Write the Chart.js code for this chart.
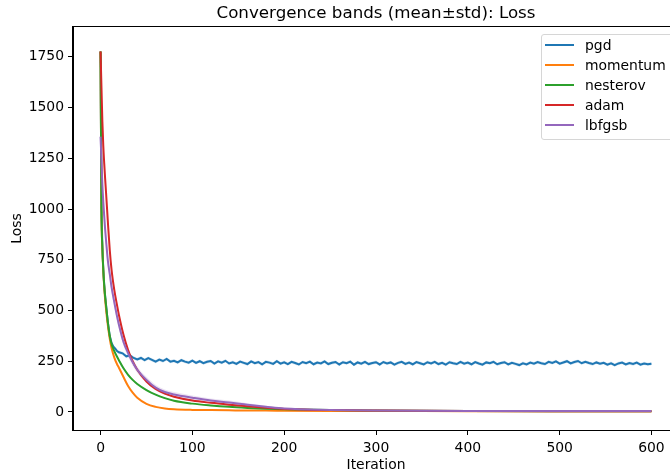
<!DOCTYPE html>
<html lang="en">
<head>
<meta charset="UTF-8">
<title>Convergence bands (mean±std): Loss</title>
<script src="https://cdn.jsdelivr.net/npm/chart.js"></script>
<style>
  html, body { margin: 0; padding: 0; background: #fff; overflow: hidden; }
  #wrap { position: relative; width: 670px; height: 476px; overflow: hidden; }
  #legend {
    position: absolute; left: 541px; top: 34px; width: 140px; height: 104px;
    border: 1px solid #d6d6d6; border-radius: 3px; background: rgba(255,255,255,0.8);
    font-family: "DejaVu Sans", sans-serif; font-size: 13.9px; color: #000;
  }
  .row { position: absolute; left: 0; height: 20px; display: flex; align-items: center; }
  .swatch { width: 29px; height: 2px; margin-left: 3px; }
  .label { margin-left: 11px; white-space: nowrap; }
</style>
</head>
<body>
<div id="wrap">
  <canvas id="chart" width="700" height="476"></canvas>
  <div id="legend"></div>
</div>
<script>
// series names and colours (matplotlib tab10)
const seriesNames = ['pgd', 'momentum', 'nesterov', 'adam', 'lbfgsb'];
const seriesColors = ['#1f77b4', '#ff7f0e', '#2ca02c', '#d62728', '#9467bd'];

// axis ticks
const xTicks = [0, 100, 200, 300, 400, 500, 600];
const yTicks = [0, 250, 500, 750, 1000, 1250, 1500, 1750];

// iterations sampled for the smooth curves
const iters = [0, 1, 2, 3, 4, 5, 6, 8, 10, 12, 15, 18, 20, 25, 30, 35, 40, 50, 60, 70, 80, 100, 120, 140, 160, 180, 200, 250, 300, 400, 500, 600];

const momentumMean = [1776, 1000, 805, 695, 615, 555, 505, 425, 362, 315, 268, 235, 218, 172, 128, 95, 70, 40, 25, 17, 13, 10, 9, 8, 7, 7, 6, 5, 5, 4, 4, 4];
const momentumStd  = [0, 8, 8, 7, 6, 6, 5, 5, 5, 5, 4, 4, 4, 4, 3, 3, 3, 2, 2, 2, 1, 1, 1, 1, 1, 1, 1, 1, 1, 1, 1, 1];

const nesterovMean = [1776, 1000, 810, 700, 625, 570, 525, 440, 375, 335, 300, 272, 255, 215, 183, 158, 138, 108, 85, 68, 55, 41, 32, 25, 20, 16, 13, 9, 7, 5, 4, 4];
const nesterovStd  = [0, 10, 9, 8, 8, 7, 7, 6, 6, 6, 5, 5, 5, 5, 4, 4, 4, 3, 3, 3, 2, 2, 2, 2, 1, 1, 1, 1, 1, 1, 1, 1];

const adamMean = [1776, 1600, 1430, 1310, 1225, 1150, 1080, 935, 800, 700, 600, 525, 478, 380, 305, 250, 208, 150, 113, 90, 75, 56, 45, 36, 28, 21, 15, 9, 7, 5, 4, 4];
const adamStd  = [0, 10, 10, 10, 9, 9, 9, 8, 8, 7, 7, 6, 6, 6, 5, 5, 5, 4, 4, 3, 3, 3, 2, 2, 2, 2, 1, 1, 1, 1, 1, 1];

const lbfgsbMean = [1357, 1240, 1120, 1035, 965, 900, 845, 745, 680, 615, 540, 470, 430, 345, 290, 245, 208, 158, 120, 98, 86, 70, 56, 47, 36, 26, 17, 10, 7, 5, 5, 5];
const lbfgsbStd  = [15, 25, 30, 32, 32, 32, 30, 28, 26, 25, 23, 22, 21, 19, 18, 17, 16, 15, 14, 13, 12, 11, 10, 9, 7, 5, 4, 3, 2, 1, 1, 1];

// pgd is noisy, so it has its own, denser iteration list
const pgdIters = [0, 1, 2, 3, 4, 5, 6, 8, 10, 12, 14, 16, 18, 20,
  24, 28, 32, 36, 40, 44, 48, 52, 56, 60, 64, 68, 72, 76, 80, 84, 88, 92, 96, 100,
  104, 108, 112, 116, 120, 124, 128, 132, 136, 140, 144, 148, 152, 156, 160, 164, 168, 172, 176, 180,
  184, 188, 192, 196, 200, 204, 208, 212, 216, 220, 224, 228, 232, 236, 240, 244, 248, 252, 256, 260,
  264, 268, 272, 276, 280, 284, 288, 292, 296, 300, 304, 308, 312, 316, 320, 324, 328, 332, 336, 340,
  344, 348, 352, 356, 360, 364, 368, 372, 376, 380, 384, 388, 392, 396, 400, 404, 408, 412, 416, 420,
  424, 428, 432, 436, 440, 444, 448, 452, 456, 460, 464, 468, 472, 476, 480, 484, 488, 492, 496, 500,
  504, 508, 512, 516, 520, 524, 528, 532, 536, 540, 544, 548, 552, 556, 560, 564, 568, 572, 576, 580,
  584, 588, 592, 596, 600];
const pgdMean = [1776, 1000, 810, 700, 625, 570, 525, 440, 375, 340, 322, 312, 300, 294,
  289, 274, 279, 266, 259, 266, 255, 265, 257, 248, 258, 251, 261, 248, 252, 244, 255, 248, 243, 253,
  242, 250, 240, 247, 251, 238, 249, 243, 252, 239, 245, 237, 248, 242, 236, 249, 240, 246, 235, 247,
  243, 237, 250, 238, 245, 236, 247, 241, 234, 246, 240, 248, 235, 243, 239, 249, 236, 242, 246, 234,
  245, 240, 248, 233, 244, 238, 247, 236, 241, 245, 234, 246, 239, 244, 233, 242, 247, 237, 243, 235,
  246, 240, 234, 245, 239, 247, 236, 242, 233, 245, 240, 236, 247, 238, 243, 235, 246, 239, 233, 244,
  240, 247, 235, 241, 245, 234, 242, 237, 231, 240, 234, 243, 238, 246, 240, 236, 247, 242, 249, 238,
  244, 250, 239, 246, 251, 240, 247, 241, 236, 244, 238, 242, 233, 240, 231, 239, 243, 234, 241, 236,
  243, 233, 239, 235, 238];
const pgdStd = 8;

function toPts(xs, ys) {
  return xs.map((x, i) => ({ x: x, y: ys[i] }));
}
function alpha(hex, a) {
  const n = parseInt(hex.slice(1), 16);
  return 'rgba(' + (n >> 16) + ',' + ((n >> 8) & 255) + ',' + (n & 255) + ',' + a + ')';
}

const seriesData = [
  { xs: pgdIters, mean: pgdMean, lo: pgdMean.map(v => v - pgdStd), hi: pgdMean.map(v => v + pgdStd), smooth: false },
  { xs: iters, mean: momentumMean, lo: momentumMean.map((v, i) => v - momentumStd[i]), hi: momentumMean.map((v, i) => v + momentumStd[i]), smooth: true },
  { xs: iters, mean: nesterovMean, lo: nesterovMean.map((v, i) => v - nesterovStd[i]), hi: nesterovMean.map((v, i) => v + nesterovStd[i]), smooth: true },
  { xs: iters, mean: adamMean, lo: adamMean.map((v, i) => v - adamStd[i]), hi: adamMean.map((v, i) => v + adamStd[i]), smooth: true },
  { xs: iters, mean: lbfgsbMean, lo: lbfgsbMean.map((v, i) => v - lbfgsbStd[i]), hi: lbfgsbMean.map((v, i) => v + lbfgsbStd[i]), smooth: true }
];

const datasets = [];
seriesData.forEach((s, i) => {
  const col = seriesColors[i];
  const interp = s.smooth ? 'monotone' : 'default';
  datasets.push({ data: toPts(s.xs, s.lo), borderWidth: 0, pointRadius: 0, fill: false, order: 100, cubicInterpolationMode: interp });
  datasets.push({ data: toPts(s.xs, s.hi), borderWidth: 0, pointRadius: 0, fill: '-1', backgroundColor: alpha(col, 0.18), order: 100, cubicInterpolationMode: interp });
  datasets.push({ label: seriesNames[i], data: toPts(s.xs, s.mean), borderColor: col, borderWidth: 2, pointRadius: 0, fill: false, order: 10 - i, cubicInterpolationMode: interp });
});

// axes frame (top / right spines as in matplotlib)
const frame = {
  id: 'frame',
  afterDraw(chart) {
    const a = chart.chartArea, c = chart.ctx;
    c.save();
    c.strokeStyle = '#000';
    c.lineWidth = 1;
    c.strokeRect(Math.round(a.left) - 0.5, Math.round(a.top) - 0.5, Math.round(a.right - a.left) + 1, Math.round(a.bottom - a.top) + 1);
    c.restore();
  }
};

const font = { family: "'DejaVu Sans', sans-serif", size: 13.9 };

new Chart(document.getElementById('chart'), {
  type: 'line',
  data: { datasets: datasets },
  options: {
    responsive: false,
    animation: false,
    layout: { padding: { left: 0, right: 21, top: 0, bottom: 0 } },
    plugins: {
      legend: { display: false },
      tooltip: { enabled: false },
      title: {
        display: true,
        text: 'Convergence bands (mean±std): Loss',
        fullSize: false,
        color: '#000',
        font: { family: "'DejaVu Sans', sans-serif", size: 16.7, weight: 'normal', lineHeight: 1.2 },
        padding: { top: 4, bottom: 3 }
      }
    },
    scales: {
      x: {
        type: 'linear', min: -30, max: 630,
        afterBuildTicks: s => { s.ticks = xTicks.map(v => ({ value: v })); },
        afterFit: s => { s.height = 46; },
        ticks: { color: '#000', font: font, padding: 5, maxRotation: 0, callback: v => String(v) },
        grid: { drawOnChartArea: false, tickLength: 5, tickColor: '#000' },
        border: { color: '#000' },
        title: { display: true, text: 'Iteration', color: '#000', font: font, padding: { top: 0, bottom: 2 } }
      },
      y: {
        type: 'linear', min: -89, max: 1897,
        afterBuildTicks: s => { s.ticks = yTicks.map(v => ({ value: v })); },
        afterFit: s => { s.width = 73; },
        ticks: { color: '#000', font: font, padding: 4, callback: v => String(v) },
        grid: { drawOnChartArea: false, tickLength: 5, tickColor: '#000' },
        border: { color: '#000' },
        title: { display: true, text: 'Loss', color: '#000', font: font, padding: { top: 9, bottom: 0 } }
      }
    }
  },
  plugins: [frame]
});

// legend box inside the axes, upper right
const legend = document.getElementById('legend');
seriesNames.forEach((name, i) => {
  const row = document.createElement('div');
  row.className = 'row';
  row.style.top = (i * 20) + 'px';
  row.innerHTML = '<span class="swatch" style="background:' + seriesColors[i] + '"></span><span class="label">' + name + '</span>';
  legend.appendChild(row);
});
</script>
</body>
</html>
